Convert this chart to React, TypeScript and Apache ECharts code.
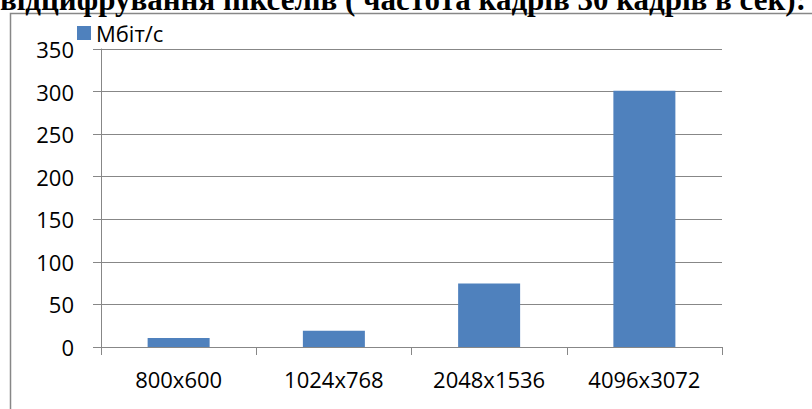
import React, { useEffect, useRef } from "react";
import * as echarts from "echarts";

const categories = ["800x600", "1024x768", "2048x1536", "4096x3072"];
const seriesName = "Мбіт/с";
const values = [10.5, 19, 74.5, 301];
const titleText = "відцифрування пікселів ( частота кадрів 30 кадрів в сек):";

const GRAY = "#878787";
const FONT = "Open Sans";

export default function App() {
  const ref = useRef<HTMLDivElement>(null);
  useEffect(() => {
    if (!ref.current) return;
    const chart = echarts.init(ref.current, null, { renderer: "svg" });
    chart.setOption({
      animation: false,
      backgroundColor: "#fff",
      textStyle: { fontFamily: FONT, color: "#000" },
      graphic: [
        {
          type: "polyline",
          shape: { points: [[10.5, 420], [10.5, 13.5], [830, 13.5]] },
          style: { stroke: GRAY, lineWidth: 1.5, fill: "none" },
          z: 1,
        },
        {
          type: "text",
          x: 806,
          y: 15,
          style: {
            text: titleText,
            font: 'bold 31px "Liberation Serif"',
            fill: "#000",
            align: "right",
            verticalAlign: "bottom",
          },
          z: 10,
        },
      ],
      legend: {
        data: [seriesName],
        left: 77,
        top: 22,
        padding: 0,
        icon: "rect",
        itemWidth: 14,
        itemHeight: 14,
        textStyle: { fontFamily: FONT, fontSize: 22, color: "#000" },
      },
      grid: { left: 101, right: 90, top: 49, bottom: 62, containLabel: false },
      xAxis: {
        type: "category",
        data: categories,
        boundaryGap: true,
        axisLine: { lineStyle: { color: GRAY, width: 1 } },
        axisTick: { show: true, length: 8, interval: 0, lineStyle: { color: GRAY } },
        axisLabel: { fontFamily: FONT, fontSize: 22, color: "#000", margin: 21, interval: 0 },
      },
      yAxis: {
        type: "value",
        min: 0,
        max: 350,
        interval: 50,
        axisLine: { show: true, lineStyle: { color: GRAY, width: 1 } },
        axisTick: { show: true, length: 8, lineStyle: { color: GRAY } },
        axisLabel: { fontFamily: FONT, fontSize: 22, color: "#000", margin: 27 },
        splitLine: { show: true, lineStyle: { color: GRAY, width: 1 } },
      },
      series: [
        {
          name: seriesName,
          type: "bar",
          data: values,
          barWidth: 62,
          itemStyle: { color: "#4F81BD" },
        },
      ],
    });
    return () => chart.dispose();
  }, []);
  return <div ref={ref} style={{ width: 812, height: 409, position: "absolute", left: 0, top: 0 }} />;
}
